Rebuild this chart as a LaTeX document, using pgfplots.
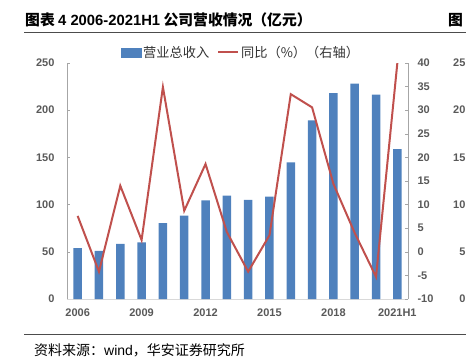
\documentclass[border=0pt]{standalone}
\usepackage{pgfplots}
\pgfplotsset{compat=1.18}
\usepackage{pgfplotstable}
\usepackage{fontspec}
\setmainfont{Liberation Sans}
\newfontfamily\cjk{Noto Sans CJK SC}
\definecolor{barblue}{HTML}{4F81BD}
\definecolor{linered}{HTML}{C0504D}
\definecolor{tickgray}{HTML}{595959}
\definecolor{axgray}{HTML}{A6A6A6}
\definecolor{basegray}{HTML}{D9D9D9}
\pgfplotstableread{
x rev yoy
0 54.0 7.6
1 51.0 -4.2
2 58.3 14.0
3 60.0 2.5
4 80.5 34.9
5 88.3 8.7
6 104.5 18.6
7 109.5 4.2
8 104.9 -4.2
9 108.4 3.5
10 144.8 33.4
11 189.3 30.6
12 218.2 14.4
13 228.1 4.0
14 216.5 -5.3
15 158.9 40.0
}\datatable
\begin{document}
\begin{tikzpicture}
\path[use as bounding box] (0pt,0pt) rectangle (466pt,-360pt);
% title
\node[anchor=west, inner sep=0pt, font=\cjk\bfseries\fontsize{14.8}{16}\selectfont] at (25pt,-20pt)
  {图表 {\normalfont\bfseries 4 2006-2021H1} 公司营收情况（亿元）};
\node[anchor=west, inner sep=0pt, font=\cjk\bfseries\fontsize{14.8}{16}\selectfont] at (448pt,-20pt) {图};
\draw[black!70, line width=0.8pt] (24pt,-32pt) -- (466pt,-32pt);
\draw[black!70, line width=0.8pt] (24pt,-334pt) -- (466pt,-334pt);
\node[anchor=west, inner sep=0pt, font=\cjk\fontsize{14}{15}\selectfont] at (34pt,-350pt)
  {资料来源：{\normalfont wind}，华安证券研究所};
% left axis with bars
\begin{axis}[
  at={(67pt,-299pt)}, anchor=south west,
  width=341pt, height=236pt, scale only axis,
  xmin=-0.5, xmax=15.5, ymin=0, ymax=250,
  ytick={0,50,...,250},
  xtick={0,3,6,9,12,15},
  xticklabels={2006,2009,2012,2015,2018,2021H1},
  axis x line*=bottom, axis y line*=left,
  x axis line style={basegray, line width=0.8pt, -},
  y axis line style={axgray, line width=0.8pt, -},
  xtick style={draw=none},
  ytick style={axgray, line width=0.6pt},
  tick align=inside, major tick length=3pt,
  /pgf/number format/assume math mode=true,
  tick label style={font=\bfseries\fontsize{11}{12}\selectfont, text=tickgray},
  yticklabel style={xshift=-9pt},
  xticklabel style={yshift=-6pt},
]
\addplot[ybar, bar width=8.5pt, fill=barblue, draw=none] table[x=x, y=rev] {\datatable};
\end{axis}
% right axis with line
\begin{axis}[
  at={(67pt,-299pt)}, anchor=south west,
  width=341pt, height=236pt, scale only axis,
  xmin=-0.5, xmax=15.5, ymin=-10, ymax=40,
  ytick={-10,-5,...,40},
  axis x line=none, axis y line*=right,
  y axis line style={axgray, line width=0.8pt, -},
  ytick style={axgray, line width=0.6pt},
  tick align=inside, major tick length=3pt,
  /pgf/number format/assume math mode=true,
  tick label style={font=\bfseries\fontsize{11}{12}\selectfont, text=tickgray},
  yticklabel style={xshift=6pt},
  legend columns=2,
  legend style={at={(0.51,1)}, anchor=south, draw=none, fill=none,
    font=\cjk\fontsize{13.2}{14}\selectfont, text=black!80,
    /tikz/every even column/.append style={column sep=6pt}},
]
\addlegendimage{legend image code/.code={\fill[barblue] (0pt,-4.5pt) rectangle (20pt,4.5pt);}}
\addlegendentry{营业总收入}
\addplot[linered, line width=2pt, mark=none,
  legend image code/.code={\draw[linered, line width=2pt] (0pt,0pt) -- (20pt,0pt);}]
  table[x=x, y=yoy] {\datatable};
\addlegendentry{同比（\%）（右轴）}
\end{axis}
% fragment of neighbouring chart's axis
\begin{axis}[
  at={(469pt,-299pt)}, anchor=south west,
  width=10pt, height=236pt, scale only axis,
  xmin=0, xmax=1, ymin=0, ymax=25,
  ytick={0,5,...,25},
  hide x axis, axis y line*=left,
  y axis line style={draw=none},
  major tick length=0pt,
  /pgf/number format/assume math mode=true,
  tick label style={font=\bfseries\fontsize{11}{12}\selectfont, text=tickgray},
]
\addplot[draw=none] coordinates {(0,0)};
\end{axis}
\end{tikzpicture}
\end{document}
